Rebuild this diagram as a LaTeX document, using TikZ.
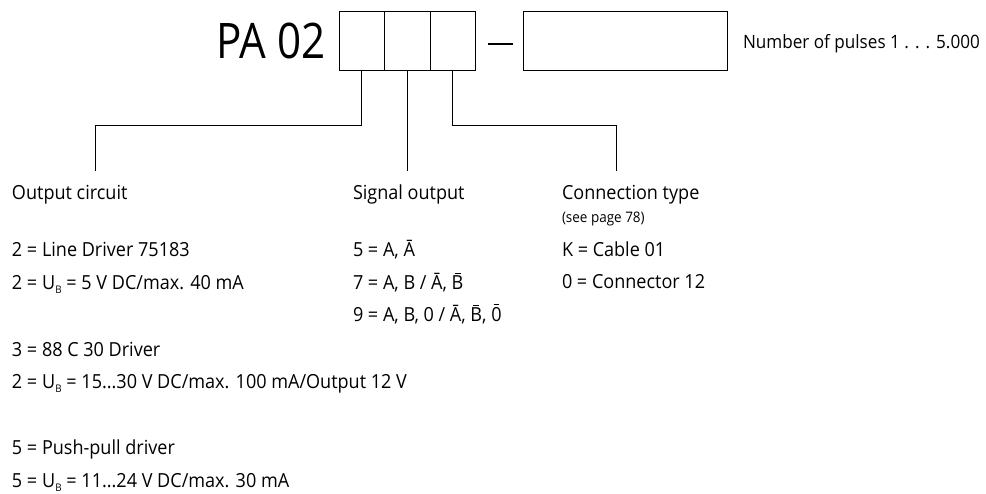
\documentclass[tikz,border=0pt]{standalone}
\usepackage{fontspec}
\setmainfont[FakeStretch=0.93]{Open Sans}
\newfontfamily\titlefont[FakeStretch=0.86]{Open Sans}
\newcommand\ubsym{U\kern0.3pt\raisebox{-4pt}{\fontsize{10.5}{10.5}\selectfont B}}
\newcommand\macr[1]{\leavevmode\setbox0\hbox{#1}\rlap{\hbox to\wd0{\hss\raisebox{\dimexpr\ht0+2.6pt\relax}{\rule{0.52\wd0}{1pt}}\hss}}\box0}
\begin{document}
\begin{tikzpicture}[x=1pt,y=-1pt,line width=1pt,
  txt/.style={anchor=base west,inner sep=0pt,outer sep=0pt,font=\fontsize{19.4}{22}\selectfont},
  small/.style={anchor=base west,inner sep=0pt,outer sep=0pt,font=\fontsize{14.5}{16}\selectfont},
  cell/.style={draw,anchor=north west,inner sep=0pt,outer sep=0pt,minimum height=59pt}]
\useasboundingbox (0,0) rectangle (986,494);
% title
\node[anchor=base west,inner sep=0pt,font=\titlefont\fontsize{49}{50}\selectfont] (pa) at (216,59) {PA 02};
\node[cell,minimum width=45pt] (b1) at (339,12) {};
\node[cell,minimum width=46pt] (b2) at (384,12) {};
\node[cell,minimum width=45pt] (b3) at (430,12) {};
\coordinate (d1) at (488,44);
\coordinate (d2) at (513,44);
\draw[line width=2pt] (d1) -- (d2);
\node[cell,minimum width=204pt] (nb) at (523,12) {};
\node[txt,font=\fontsize{18.4}{20}\selectfont] (np) at (743,49) {Number of pulses 1 .\,\,.\,\,. 5.000};
% connectors
\coordinate (k1) at (95,126);
\coordinate (e1) at (95,171);
\coordinate (e2) at (407,171);
\coordinate (k3) at (616,126);
\coordinate (e3) at (616,171);
\draw (b1.south) |- (k1) -- (e1);
\draw (b2.south) -- (e2);
\draw (b3.south) |- (k3) -- (e3);
% column 1
\node[txt] (oc) at (12,200) {Output circuit};
\node[txt] (o1) at (12,257) {2 = Line Driver 75183};
\node[txt] (o2) at (12,290) {2 = \ubsym{} = 5 V DC/max. 40 mA};
\node[txt] (o3) at (12,357) {3 = 88 C 30 Driver};
\node[txt] (o4) at (12,389) {2 = \ubsym{} = 15...30 V DC/max. 100 mA/Output 12 V};
\node[txt] (o5) at (12,454) {5 = Push-pull driver};
\node[txt] (o6) at (12,487) {5 = \ubsym{} = 11...24 V DC/max. 30 mA};
% column 2
\node[txt] (so) at (353,200) {Signal output};
\node[txt] (s1) at (353,257) {5 = A, Ā};
\node[txt] (s2) at (353,290) {7 = A, B / Ā, \macr{B}};
\node[txt] (s3) at (353,322) {9 = A, B, 0 / Ā, \macr{B}, \macr{0}};
% column 3
\node[txt] (ct) at (562,200) {Connection type};
\node[small] (sp) at (562,223) {(see page 78)};
\node[txt] (c1) at (562,257) {K = Cable 01};
\node[txt] (c2) at (562,289) {0 = Connector 12};
\end{tikzpicture}
\end{document}
